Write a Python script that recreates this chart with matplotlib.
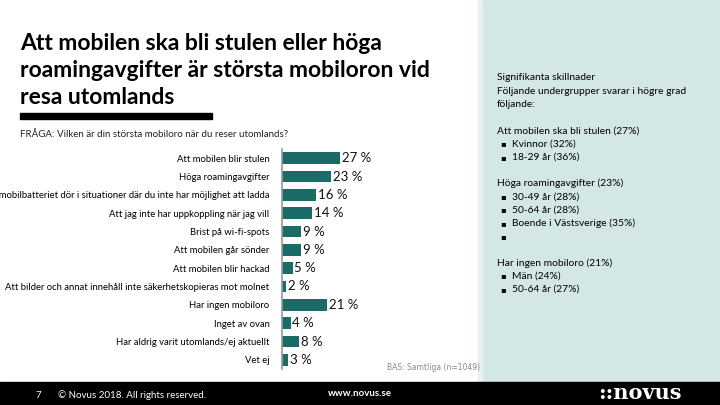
import matplotlib.pyplot as plt
from matplotlib.patches import Rectangle

# data
kategorier = ["Att mobilen blir stulen", "Höga roamingavgifter",
              "Att mobilbatteriet dör i situationer där du inte har möjlighet att ladda",
              "Att jag inte har uppkoppling när jag vill", "Brist på wi-fi-spots",
              "Att mobilen går sönder", "Att mobilen blir hackad",
              "Att bilder och annat innehåll inte säkerhetskopieras mot molnet",
              "Har ingen mobiloro", "Inget av ovan",
              "Har aldrig varit utomlands/ej aktuellt", "Vet ej"]
andel = [27, 23, 16, 14, 9, 9, 5, 2, 21, 4, 8, 3]

titel_rader = ["Att mobilen ska bli stulen eller höga",
               "roamingavgifter är största mobiloron vid",
               "resa utomlands"]
fraga = "FRÅGA: Vilken är din största mobiloro när du reser utomlands?"
panel_rader = [("Signifikanta skillnader", 0), ("Följande undergrupper svarar i högre grad", 0),
               ("följande:", 0), ("", 0),
               ("Att mobilen ska bli stulen (27%)", 0), ("Kvinnor (32%)", 1), ("18-29 år (36%)", 1), ("", 0),
               ("Höga roamingavgifter (23%)", 0), ("30-49 år (28%)", 1), ("50-64 år (28%)", 1),
               ("Boende i Västsverige (35%)", 1), ("", 1), ("", 0),
               ("Har ingen mobiloro (21%)", 0), ("Män (24%)", 1), ("50-64 år (27%)", 1)]

W, H = 720, 405
plt.rcParams['font.family'] = ['Lato', 'DejaVu Sans']
fig = plt.figure(figsize=(W / 100, H / 100), dpi=100)

def fx(px):
    return px / W

def fy(py):
    return 1 - py / H

# bakgrund: panel till höger och svart sidfot
fig.patches.append(Rectangle((fx(482), fy(382)), fx(238), 382 / H, transform=fig.transFigure,
                             color="#d3e7e5", zorder=0))
fig.patches.append(Rectangle((fx(478), fy(382)), fx(4), 382 / H, transform=fig.transFigure,
                             color="#e8f2f1", zorder=0))
fig.patches.append(Rectangle((0, 0), 1, 23 / H, transform=fig.transFigure, color="black", zorder=0))

# titel, en rad i taget
for k, rad in enumerate(titel_rader):
    fig.text(fx(20), fy(50 + 27 * k), rad, fontsize=16.5, fontweight="bold", va="baseline",
             ha="left", color="black")
fig.patches.append(Rectangle((fx(20), fy(119)), fx(192), 6 / H, transform=fig.transFigure,
                             color="black", zorder=1))
fig.text(fx(20), fy(135), fraga, fontsize=7, va="center", color="#222222")

# stapeldiagram
ax = fig.add_axes([fx(282), fy(369), fx(200), (369 - 149) / H])
y = list(range(len(kategorier)))
ax.barh(y, andel, height=0.62, color="#1b6b66")
ax.set_ylim(len(kategorier) - 0.5, -0.5)
ax.set_xlim(0, 93)
ax.set_facecolor("none")
for s in ["top", "right", "bottom"]:
    ax.spines[s].set_visible(False)
ax.spines["left"].set_color("#999999")
ax.spines["left"].set_linewidth(1.2)
ax.set_xticks([])
ax.set_yticks(y)
ax.set_yticklabels(kategorier, fontsize=6.8)
ax.tick_params(axis="y", length=0, pad=9)
for i, v in enumerate(andel):
    ax.text(v + 0.7, i, f"{v} %", va="center", ha="left", fontsize=9.5, color="#111111")

fig.text(fx(480), fy(367), "BAS: Samtliga (n=1049)", fontsize=5.5, ha="right", va="center",
         color="#888888", family="DejaVu Sans")

# panel text
yy = 78
for txt, bullet in panel_rader:
    if bullet:
        fig.text(fx(500), fy(yy), "▪", fontsize=6, va="center", family="DejaVu Sans")
        fig.text(fx(512), fy(yy), txt, fontsize=7.4, va="center")
    else:
        fig.text(fx(497), fy(yy), txt, fontsize=7.4, va="center")
    yy += 13.2

# sidfot
fig.text(fx(35), fy(395), "7", fontsize=7, color="white", va="center")
fig.text(fx(58), fy(395), "© Novus 2018. All rights reserved.", fontsize=7, color="white", va="center")
fig.text(fx(328), fy(393), "www.novus.se", fontsize=7, color="white", va="center", fontweight="bold")
fig.text(fx(598), fy(393), "::novus", fontsize=15, color="white", va="center", fontweight="bold",
         family="DejaVu Serif")

fig.savefig("out.png", dpi=100)
